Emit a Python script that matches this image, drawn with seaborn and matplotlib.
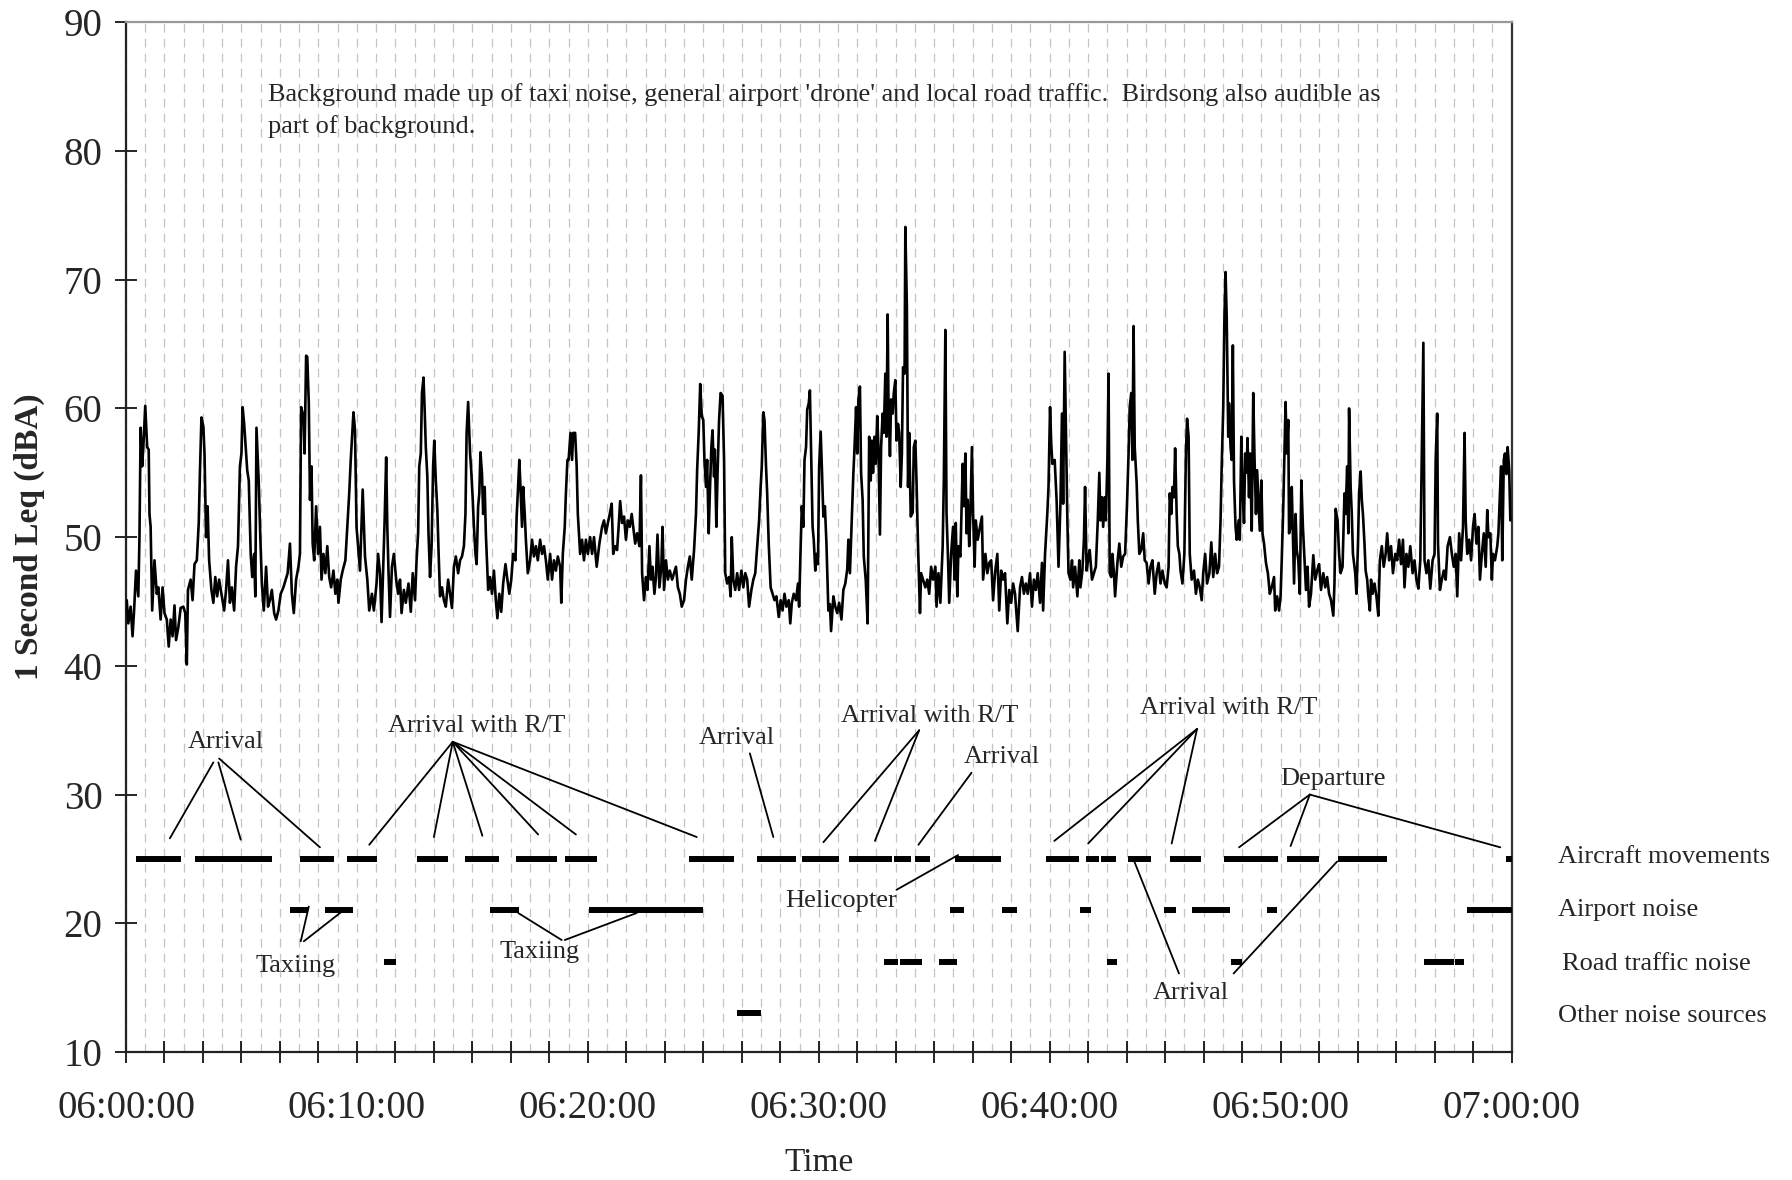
import matplotlib
matplotlib.use("Agg")
import matplotlib.pyplot as plt
import seaborn as sns
import pandas as pd
from matplotlib.ticker import FixedLocator, FuncFormatter, MultipleLocator

# ---------------- data (seconds after 06:00:00, dBA) ----------------
leq_0600_0610 = [(2,45.1),(6,43.3),(12,44.6),(17,42.3),(21,44.3),(26,47.4),(32,45.4),(35,50.0),(38,58.5),(42,55.5),
    (45,57.0),(50,60.2),(55,57.0),(59,56.8),(61,51.8),(64,50.8),(68,44.3),(74,48.2),(80,45.6),(84,46.1),(90,43.6),
    (95,46.1),(100,44.1),(106,43.6),(111,41.5),(116,43.6),(121,42.3),(126,44.7),(130,42.0),(136,43.0),(142,44.5),
    (149,44.6),(154,44.1),(158,40.1),(161,45.9),(168,46.7),(173,45.1),(178,47.9),(184,48.2),(189,51.1),(192,54.9),
    (196,59.3),(201,58.6),(204,56.5),(208,50.0),(212,52.4),(216,48.2),(222,45.9),(227,44.9),(232,46.9),(237,45.4),
    (242,46.7),(248,45.6),(255,44.3),(260,45.9),(265,48.2),(270,44.9),(275,46.1),(281,44.3),(286,47.7),(291,49.3),
    (296,55.5),(300,56.5),(303,60.1),(307,58.8),(311,57.0),(315,55.2),(319,54.4),(324,48.7),(328,46.9),(333,48.7),
    (336,45.4),(339,58.5),(345,54.2),(349,50.0),(353,46.4),(358,44.3),(364,47.7),(369,44.6),(374,45.1),(379,45.9),
    (385,44.1),(390,43.6),(396,44.3),(402,45.6),(409,46.1),(415,46.7),(420,47.2),(426,49.5),(431,45.6),(436,44.1),
    (442,46.7),(448,47.7),(452,48.7),(455,60.1),(461,59.4),(464,56.5),(468,64.1),(471,64.0),(475,60.4),(478,52.9),
    (482,55.5),(485,49.5),(489,48.2),(494,52.4),(499,48.7),(504,50.8),(508,46.7),(513,48.7),(518,47.2),(523,49.3),
    (528,46.9),(533,46.1),(539,47.4),(544,45.6),(549,46.7),(552,44.9),(558,46.7),(563,47.4),(570,48.2),(575,50.8),
    (580,53.4),(584,56.0),(591,59.7),(595,58.3),(599,50.8)]
leq_0610_0620 = [(608,47.4),(615,53.7),(621,48.5),(627,46.7),(632,44.3),(639,45.6),(644,44.3),(651,46.4),(655,48.7),
    (660,47.2),(664,43.4),(669,48.2),(672,51.3),(676,56.2),(679,50.8),(682,47.4),(686,43.8),(691,47.7),(696,48.7),
    (702,46.7),(707,45.6),(712,46.7),(716,44.1),(722,45.9),(727,44.9),(734,46.4),(740,44.2),(745,47.2),(751,45.1),
    (755,48.2),(759,50.3),(762,55.5),(766,56.5),(769,61.2),(773,62.4),(776,59.9),(779,57.0),(783,54.7),(786,50.3),
    (790,46.9),(794,49.3),(798,55.5),(801,57.5),(805,54.4),(809,52.1),(812,49.0),(816,45.4),(821,46.1),(826,45.1),
    (831,44.6),(837,46.7),(842,45.6),(847,44.5),(852,47.7),(857,48.5),(863,47.2),(868,48.2),(873,48.5),(878,49.3),
    (882,51.8),(885,58.1),(889,60.5),(894,56.5),(897,55.2),(901,52.9),(904,50.8),(908,48.7),(911,47.9),(915,52.4),
    (918,53.4),(921,56.6),(925,54.9),(928,51.8),(932,53.9),(935,50.3),(941,45.9),(946,46.9),(951,45.6),(956,47.4),
    (961,45.1),(965,43.7),(970,45.6),(975,44.2),(980,46.4),(986,47.9),(991,46.7),(996,45.6),(1001,46.7),(1006,48.7),
    (1012,48.2),(1015,51.6),(1018,53.4),(1022,56.0),(1025,53.9),(1029,50.8),(1032,53.9),(1036,51.8),(1039,49.8),
    (1044,47.2),(1050,48.2),(1055,49.8),(1060,48.5),(1065,49.3),(1070,48.2),(1076,49.8),(1081,48.7),(1086,49.3),
    (1091,48.2),(1096,46.7),(1102,48.7),(1107,46.7),(1112,48.2),(1117,47.4),(1122,48.5),(1128,47.7),(1131,44.9),
    (1135,48.7),(1140,50.8),(1143,53.4),(1147,56.0),(1150,56.0),(1155,58.1),(1159,56.0),(1162,58.1),(1167,58.1),
    (1171,55.5),(1174,51.8),(1180,48.7),(1185,49.8),(1190,48.2),(1195,49.8),(1200,48.7),(1206,50.0),(1211,48.7),
    (1216,50.0),(1223,47.7),(1230,49.5)]
leq_0620_0630 = [(1237,50.8),(1242,51.3),(1247,50.3),(1252,51.1),(1257,51.8),(1262,52.6),(1266,48.7),(1271,49.3),
    (1276,49.0),(1280,50.8),(1284,52.8),(1289,51.1),(1294,51.6),(1299,49.8),(1304,51.3),(1309,50.8),(1314,51.8),
    (1318,50.8),(1323,49.5),(1328,50.3),(1334,49.3),(1338,54.8),(1341,47.2),(1346,45.1),(1351,46.9),(1355,45.9),
    (1360,49.3),(1364,46.7),(1368,47.7),(1373,45.6),(1377,46.9),(1381,50.2),(1386,46.1),(1391,47.7),(1394,50.8),
    (1398,45.9),(1403,48.2),(1408,46.7),(1413,47.4),(1419,46.7),(1424,47.2),(1429,47.7),(1434,46.1),(1439,45.6),
    (1444,44.6),(1450,45.1),(1455,46.7),(1460,47.7),(1465,48.5),(1470,46.7),(1476,49.0),(1481,51.8),(1484,55.2),
    (1488,58.1),(1492,61.9),(1496,59.4),(1500,59.1),(1503,56.0),(1507,53.9),(1510,56.0),(1514,50.3),(1517,53.4),
    (1521,57.0),(1524,58.3),(1528,54.7),(1530,56.8),(1534,50.8),(1537,54.9),(1541,59.1),(1545,61.2),(1550,61.0),
    (1554,56.0),(1557,47.2),(1562,46.4),(1567,46.9),(1571,45.4),(1574,50.0),(1578,46.7),(1583,45.9),(1588,47.2),
    (1593,45.9),(1599,47.4),(1604,46.1),(1609,47.2),(1614,46.7),(1619,44.6),(1625,45.9),(1630,46.7),(1635,47.2),
    (1640,49.3),(1645,51.3),(1649,53.9),(1652,55.5),(1656,59.7),(1659,59.1),(1663,55.5),(1666,53.4),(1670,49.5),
    (1675,46.1),(1680,45.6),(1685,45.1),(1690,45.4),(1696,43.8),(1701,45.1),(1706,44.3),(1711,45.6),(1716,44.6),
    (1722,45.1),(1726,43.3),(1730,44.9),(1735,45.6),(1741,45.1),(1746,46.4),(1749,44.6),(1753,49.3),(1756,52.4),
    (1760,50.8),(1763,56.0),(1767,57.0),(1770,59.9),(1774,60.4),(1777,61.4),(1781,55.5),(1784,50.8),(1787,49.8),
    (1791,47.4),(1794,48.7),(1798,47.9),(1801,55.5),(1805,58.2),(1808,55.5),(1812,51.6),(1816,52.4),(1820,49.5)]
leq_0630_0640 = [(1825,44.3),(1829,44.8),(1832,42.7),(1838,45.4),(1843,44.6),(1848,44.1),(1853,44.9),(1859,43.6),
    (1864,45.9),(1869,46.4),(1874,47.5),(1877,49.8),(1881,47.2),(1885,50.6),(1890,55.0),(1893,57.0),(1897,60.1),
    (1900,56.5),(1903,60.7),(1907,61.7),(1910,55.0),(1914,52.9),(1917,48.5),(1922,46.7),(1927,43.3),(1931,57.8),
    (1935,54.4),(1938,57.5),(1941,55.0),(1945,57.8),(1948,55.7),(1952,59.4),(1955,57.0),(1959,50.2),(1962,57.0),
    (1966,59.6),(1969,58.1),(1973,62.7),(1976,57.8),(1979,67.3),(1981,60.9),(1985,56.3),(1988,60.7),(1992,59.6),
    (1995,61.2),(1999,62.2),(2002,57.5),(2006,58.8),(2009,58.1),(2013,53.9),(2016,56.5),(2019,63.2),(2023,62.7),
    (2025,74.1),(2029,67.9),(2032,53.9),(2035,58.1),(2039,51.6),(2044,51.9),(2047,57.0),(2051,57.5),(2054,54.4),
    (2058,49.3),(2063,44.1),(2066,47.2),(2071,46.7),(2077,46.1),(2082,46.7),(2087,45.6),(2092,47.7),(2097,46.7),
    (2103,47.7),(2106,44.6),(2111,47.2),(2116,44.9),(2122,49.3),(2125,54.4),(2129,66.1),(2132,51.9),(2136,48.2),
    (2139,44.9),(2144,48.7),(2149,50.8),(2153,46.7),(2156,51.1),(2160,45.4),(2163,49.3),(2168,48.5),(2174,55.7),
    (2177,52.4),(2181,56.5),(2184,50.3),(2187,52.9),(2191,49.3),(2194,51.9),(2198,57.0),(2201,51.9),(2205,47.7),
    (2208,51.3),(2213,49.8),(2219,50.8),(2224,51.6),(2227,46.7),(2233,48.7),(2238,47.2),(2243,48.0),(2248,48.2),
    (2253,45.1),(2258,47.2),(2264,48.7),(2269,44.3),(2274,47.4),(2279,46.7),(2284,47.2),(2290,43.3),(2295,45.9),
    (2300,44.9),(2305,46.4),(2310,45.6),(2317,42.7),(2323,46.1),(2328,46.9),(2333,45.6),(2338,46.4),(2343,45.6),
    (2349,47.2),(2354,44.6),(2359,46.7),(2364,45.9),(2369,47.2),(2375,44.9),(2380,48.0),(2383,44.3),(2388,48.7),
    (2394,51.9),(2397,53.9),(2401,60.1),(2404,57.3),(2407,55.7),(2413,56.0),(2418,52.9),(2423,47.7)]
leq_0640_0650 = [(2428,52.6),(2432,59.6),(2435,52.6),(2439,64.4),(2442,58.6),(2446,51.3),(2449,47.2),(2454,46.7),
    (2458,48.2),(2461,46.1),(2466,47.7),(2472,45.4),(2477,48.2),(2480,46.1),(2485,47.4),(2489,49.8),(2492,53.9),
    (2496,47.4),(2501,48.5),(2504,49.0),(2510,46.7),(2515,47.2),(2520,47.7),(2525,51.3),(2529,55.0),(2532,51.3),
    (2536,53.1),(2539,50.8),(2543,53.1),(2546,51.3),(2550,56.0),(2553,62.7),(2556,47.2),(2560,46.9),(2563,48.7),
    (2567,47.2),(2570,45.4),(2576,48.0),(2581,49.5),(2586,47.7),(2591,48.5),(2596,48.7),(2601,52.6),(2605,56.5),
    (2608,60.1),(2612,61.2),(2615,56.0),(2618,66.4),(2621,57.0),(2626,54.2),(2629,51.3),(2633,48.7),(2638,49.0),
    (2643,50.3),(2647,48.2),(2652,48.0),(2657,46.4),(2662,47.7),(2667,48.2),(2673,45.6),(2678,47.2),(2683,48.0),
    (2688,46.4),(2693,47.4),(2699,46.4),(2704,46.1),(2709,47.7),(2712,53.4),(2716,51.8),(2719,53.9),(2723,53.1),
    (2726,56.9),(2730,51.8),(2733,49.3),(2737,48.7),(2740,47.4),(2745,46.4),(2750,48.7),(2754,56.5),(2757,59.2),
    (2761,57.8),(2764,48.7),(2769,46.7),(2775,47.4),(2780,45.6),(2785,46.7),(2790,46.1),(2795,45.1),(2799,47.2),
    (2804,48.7),(2809,46.4),(2815,47.2),(2820,49.6),(2825,46.9),(2830,48.7),(2835,47.2),(2840,47.7),(2844,51.3),
    (2847,55.5),(2851,60.1),(2854,66.9),(2857,70.6),(2860,67.1),(2864,57.8),(2866,60.4),(2870,57.0),(2873,56.0),
    (2876,64.9),(2879,54.4),(2883,50.8),(2886,49.8),(2891,51.3),(2894,49.8),(2898,57.8),(2901,53.9),(2905,51.1),
    (2908,56.5),(2912,55.0),(2914,57.7),(2918,53.1),(2921,56.5),(2925,50.5),(2929,61.2),(2932,56.5),(2936,51.8),
    (2939,55.2),(2943,52.6),(2946,50.5),(2950,54.4),(2953,50.3),(2957,49.5),(2962,48.0),(2967,47.2),(2972,45.6),
    (2977,46.1),(2983,46.9),(2986,44.3),(2991,45.4),(2996,44.3),(3000,45.4),(3003,48.2),(3007,52.4),(3010,56.5),
    (3013,60.5),(3016,56.5),(3020,59.1),(3022,50.3)]
leq_0650_0700 = [(3026,50.8),(3029,53.9),(3033,48.7),(3035,46.4),(3039,51.8),(3042,49.0),(3046,48.2),(3050,45.6),
    (3054,54.4),(3058,50.8),(3061,49.0),(3066,45.9),(3070,47.7),(3074,44.6),(3079,45.6),(3085,48.6),(3090,46.7),
    (3095,47.4),(3100,47.9),(3105,45.9),(3111,47.2),(3116,46.1),(3121,46.9),(3126,45.6),(3131,45.1),(3137,43.9),
    (3140,46.4),(3143,52.2),(3148,51.3),(3152,48.7),(3156,47.2),(3161,47.7),(3166,53.4),(3169,51.8),(3173,55.5),
    (3176,50.3),(3178,60.0),(3182,53.9),(3185,51.8),(3188,48.7),(3194,47.2),(3197,45.6),(3201,49.3),(3204,53.4),
    (3208,55.1),(3211,52.9),(3214,51.8),(3218,49.5),(3221,47.4),(3225,46.7),(3228,45.4),(3232,44.3),(3235,46.7),
    (3239,45.6),(3244,46.4),(3249,45.4),(3254,43.9),(3258,48.2),(3263,49.3),(3268,47.7),(3273,48.7),(3277,50.3),
    (3282,48.2),(3287,49.3),(3292,47.2),(3298,48.7),(3303,48.2),(3308,49.8),(3313,47.9),(3318,49.8),(3322,46.1),
    (3327,48.7),(3332,47.7),(3337,49.3),(3343,47.2),(3348,48.2),(3353,46.7),(3358,46.0),(3363,48.2),(3368,58.6),
    (3371,65.1),(3374,48.2),(3379,47.2),(3384,48.2),(3389,46.0),(3395,48.2),(3400,48.7),(3403,56.0),(3407,59.6),
    (3409,49.5),(3414,45.9),(3419,46.7),(3424,47.4),(3429,46.7),(3434,49.3),(3440,50.0),(3445,48.7),(3450,47.7),
    (3455,48.7),(3459,45.4),(3464,50.3),(3469,48.2),(3474,50.8),(3478,58.1),(3481,51.3),(3485,48.7),(3490,49.8),
    (3495,48.2),(3500,50.8),(3504,51.8),(3509,49.5),(3514,50.8),(3518,46.7),(3523,48.7),(3528,50.3),(3533,47.7),
    (3537,52.1),(3540,50.0),(3545,50.3),(3549,46.7),(3552,48.7),(3557,48.2),(3563,49.3),(3566,50.3),(3570,53.4),
    (3573,55.5),(3576,48.2),(3580,56.0),(3583,56.5),(3587,54.9),(3590,57.0),(3594,55.2),(3597,51.3)]

# source activity periods (start s, end s)
aircraft_movements = [(26,142),(178,379),(453,540),(575,652),(755,837),(880,969),(1013,1121),(1141,1223),
    (1462,1581),(1640,1741),(1756,1852),(1878,1990),(1995,2039),(2050,2088),(2154,2273),(2390,2476),(2494,2527),
    (2533,2573),(2603,2664),(2713,2794),(2854,2994),(3017,3099),(3150,3277),(3587,3600)]
airport_noise = [(427,474),(516,591),(947,1021),(1204,1500),(2140,2177),(2275,2316),(2478,2507),(2697,2729),
    (2771,2868),(2965,2991),(3485,3600)]
road_traffic_noise = [(670,701),(1969,2006),(2012,2067),(2113,2160),(2548,2576),(2870,2901),(3373,3450),(3452,3477)]
other_noise_sources = [(1588,1649)]

source_names = ["Aircraft movements", "Airport noise", "Road traffic noise", "Other noise sources"]
source_levels = [25, 21, 17, 13]

y_ticks = [10, 20, 30, 40, 50, 60, 70, 80, 90]
background_note = ("Background made up of taxi noise, general airport 'drone' and local road traffic.  Birdsong also audible as\n"
                   "part of background.")

# annotations: label, text position, leader lines (from -> to)
annotations = [
    ("Arrival", (260, 34.1), [((227, 32.5), (114, 26.6)), ((240, 32.5), (298, 26.5)), ((242, 32.8), (504, 25.9))]),
    ("Arrival with R/T", (911, 35.3), [((849, 34.1), (632, 26.1)), ((849, 34.1), (800, 26.7)), ((849, 34.1), (926, 26.8)),
                                       ((849, 34.1), (1071, 26.9)), ((849, 34.1), (1169, 26.9)), ((849, 34.1), (1483, 26.7))]),
    ("Arrival", (1587, 34.4), [((1621, 33.2), (1682, 26.7))]),
    ("Arrival with R/T", (2089, 36.1), [((2061, 35.0), (1812, 26.3)), ((2061, 35.0), (1946, 26.4))]),
    ("Arrival", (2275, 32.9), [((2197, 31.7), (2059, 26.1))]),
    ("Helicopter", (1857, 21.7), [((2002, 22.6), (2162, 25.3))]),
    ("Taxiing", (442, 16.7), [((454, 18.6), (475, 21.3)), ((462, 18.6), (569, 21.1))]),
    ("Taxiing", (1076, 17.8), [((1132, 18.7), (1019, 20.8)), ((1140, 18.7), (1327, 20.8))]),
    ("Arrival with R/T", (2864, 36.7), [((2783, 35.1), (2412, 26.4)), ((2783, 35.1), (2500, 26.2)), ((2783, 35.1), (2717, 26.2))]),
    ("Departure", (3135, 31.2), [((3076, 30.0), (2892, 25.9)), ((3076, 30.0), (3026, 26.0)), ((3076, 30.0), (3571, 25.9))]),
    ("Arrival", (2766, 14.6), [((2736, 16.1), (2620, 24.8)), ((2878, 16.1), (3147, 24.8))]),
]

# ---------------- build tables ----------------
series = pd.DataFrame(leq_0600_0610 + leq_0610_0620 + leq_0620_0630 + leq_0630_0640 + leq_0640_0650 + leq_0650_0700,
                      columns=["t", "leq"])
seg_rows = []
for name, lvl, segs in zip(source_names, source_levels,
                           [aircraft_movements, airport_noise, road_traffic_noise, other_noise_sources]):
    for a, b in segs:
        seg_rows.append((name, lvl, a, b))
segments = pd.DataFrame(seg_rows, columns=["source", "level", "start", "end"])

# ---------------- style ----------------
sns.set_theme(style="white")
plt.rcParams["font.family"] = ["Liberation Serif", "DejaVu Serif"]
plt.rcParams["axes.unicode_minus"] = False

fig = plt.figure(figsize=(17.92, 11.8), dpi=100)
ax = fig.add_axes([126 / 1792, 1 - 1052 / 1180, (1511.5 - 126) / 1792, (1052 - 22.3) / 1180])

sns.lineplot(data=series, x="t", y="leq", ax=ax, color="black", lw=1.9, estimator=None, sort=False, zorder=3)

ax.hlines(segments["level"], segments["start"], segments["end"], colors="black", lw=4.3, zorder=4,
          capstyle="butt", clip_on=False)

for label, (tx, ty), lines in annotations:
    ax.text(tx, ty, label, ha="center", va="center", fontsize=19, zorder=5)
    for (x1, y1), (x2, y2) in lines:
        ax.plot([x1, x2], [y1, y2], color="black", lw=1.3, zorder=5)

label_x = [3720, 3720, 3732, 3720]
label_y = [25.15, 21.0, 16.8, 12.8]
for name, lx, ly in zip(source_names, label_x, label_y):
    ax.text(lx, ly, name, ha="left", va="center", fontsize=19, clip_on=False)

ax.text(370, 83.15, background_note, ha="left", va="center", fontsize=19, linespacing=1.55)

# ---------------- axes ----------------
ax.set_xlim(0, 3600)
ax.set_ylim(10, 90)
ax.xaxis.set_major_locator(FixedLocator(list(range(0, 3601, 100))))
ax.xaxis.set_major_formatter(FuncFormatter(
    lambda v, p: ("%02d:%02d:00" % (6 + int(round(v)) // 3600, (int(round(v)) % 3600) // 60)) if int(round(v)) % 600 == 0 else ""))
ax.xaxis.set_minor_locator(MultipleLocator(50))
ax.yaxis.set_major_locator(FixedLocator(y_ticks))
ax.grid(False)
ax.grid(which="both", axis="x", color="#c4c4c4", lw=0.9, ls=(0, (7, 5)))
ax.set_axisbelow(True)

ax.tick_params(axis="both", which="major", direction="inout", length=16, width=1.2, color="black",
               labelsize=28, bottom=True, left=True)
ax.tick_params(axis="x", which="major", pad=19)
ax.tick_params(axis="y", which="major", pad=9)
ax.tick_params(axis="x", which="minor", length=0)

ax.set_xlabel("Time", fontsize=24, labelpad=15)
ax.set_ylabel("1 Second Leq (dBA)", fontsize=24, fontweight="bold", labelpad=13)

for side in ["left", "bottom"]:
    ax.spines[side].set_color("#222222")
    ax.spines[side].set_linewidth(1.6)
ax.spines["top"].set_color("#999999")
ax.spines["top"].set_linewidth(1.6)
ax.spines["right"].set_color("#333333")
ax.spines["right"].set_linewidth(1.6)

fig.savefig("out.png", dpi=100)
